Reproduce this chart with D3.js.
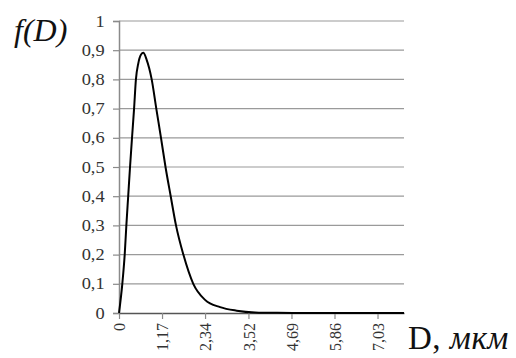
<!DOCTYPE html>
<html><head><meta charset="utf-8">
<script src="https://cdn.jsdelivr.net/npm/d3@7"></script>
<style>body{margin:0;background:#fff}svg{display:block}
.serif{font-family:"Liberation Serif","DejaVu Serif",serif}</style>
</head><body>
<svg id="c" width="516" height="358"></svg>
<script>
const dVals = [0, 0.09, 0.155, 0.2, 0.25, 0.30, 0.354, 0.41, 0.46, 0.525, 0.60, 0.661, 0.75, 0.889, 1.014, 1.142, 1.265, 1.406, 1.55, 1.75, 2.02, 2.34, 2.75, 3.2, 3.7, 4.3, 5.0, 6.0, 7.0, 7.75];
const fVals = [0, 0.1, 0.2, 0.3, 0.4, 0.5, 0.6, 0.7, 0.8, 0.855, 0.885, 0.891, 0.868, 0.8, 0.7, 0.6, 0.5, 0.4, 0.3, 0.2, 0.1, 0.045, 0.02, 0.008, 0.002, 0.0005, 0, 0, 0, 0];
const xTicks = [0, 1.17, 2.34, 3.52, 4.69, 5.86, 7.03];
const yTicks = [0, 0.1, 0.2, 0.3, 0.4, 0.5, 0.6, 0.7, 0.8, 0.9, 1];

const svg = d3.select("#c");
const x = d3.scaleLinear().domain([0, 7.75]).range([119, 404]);
const y = d3.scaleLinear().domain([0, 1]).range([313, 21]);
const fmt = v => String(v).replace(".", ",");

// gridlines
svg.append("g").selectAll("line").data(yTicks.filter(v => v > 0)).join("line")
  .attr("x1", 119).attr("x2", 404)
  .attr("y1", d => y(d)).attr("y2", d => y(d))
  .attr("stroke", "#9a9a9a").attr("stroke-width", 1.2);

// y axis
const ya = svg.append("g").attr("transform", "translate(119,0)")
  .call(d3.axisLeft(y).tickValues(yTicks).tickFormat(fmt).tickSize(6));
ya.attr("font-family", null).attr("font-size", null);
ya.select(".domain").attr("stroke", "#8a8a8a").attr("stroke-width", 1.5);
ya.selectAll(".tick line").attr("stroke", "#8a8a8a").attr("stroke-width", 1.2);
ya.selectAll("text").attr("class", "serif").style("font-size", "16px").attr("fill", "#333")
  .attr("x", -12.5).attr("transform", "scale(1.15,1)");

// x axis
const xa = svg.append("g").attr("transform", "translate(0,313)")
  .call(d3.axisBottom(x).tickValues(xTicks).tickFormat(fmt).tickSize(6).tickSizeOuter(0));
xa.attr("font-family", null).attr("font-size", null);
xa.select(".domain").attr("stroke", "#555").attr("stroke-width", 1.5);
xa.selectAll(".tick line").attr("stroke", "#8a8a8a").attr("stroke-width", 1.2);
xa.selectAll("text").attr("class", "serif").style("font-size", "16px").attr("fill", "#333")
  .attr("transform", "rotate(-90)").attr("text-anchor", "end")
  .attr("x", -10).attr("y", 0).attr("dy", "0.35em");

// curve
svg.append("path").datum(dVals.map((d, i) => [d, fVals[i]]))
  .attr("fill", "none").attr("stroke", "#000").attr("stroke-width", 2)
  .attr("stroke-linejoin", "round")
  .attr("d", d3.line().curve(d3.curveMonotoneX).x(d => x(d[0])).y(d => y(d[1])));

// labels
svg.append("text").attr("class", "serif").attr("x", 14).attr("y", 41)
  .style("font-size", "32px").style("font-style", "italic").attr("fill", "#111").text("f(D)");
const xl = svg.append("text").attr("class", "serif").attr("x", 408).attr("y", 349)
  .style("font-size", "33px").style("letter-spacing", "0.5px").attr("fill", "#111");
xl.append("tspan").text("D, ");
xl.append("tspan").style("font-style", "italic").text("мкм");
</script>
</body></html>
